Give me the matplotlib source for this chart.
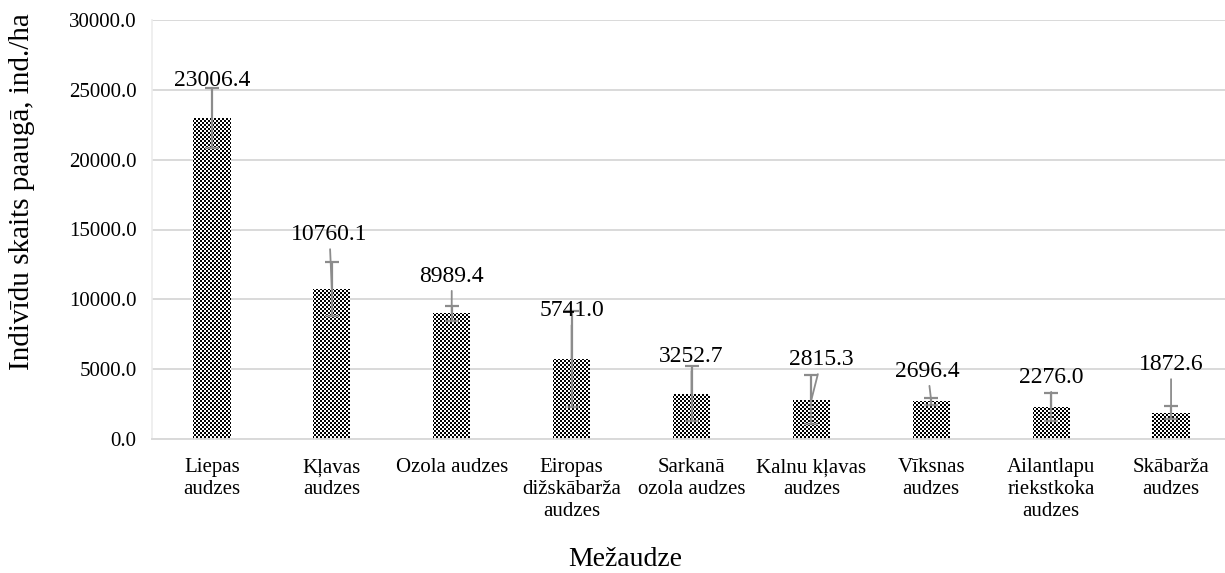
import matplotlib
matplotlib.use("Agg")
import matplotlib.pyplot as plt
import numpy as np
from matplotlib.path import Path

# ---- data ----
categories = ["Liepas\naudzes", "Kļavas\naudzes", "Ozola audzes",
              "Eiropas\ndižskābarža\naudzes", "Sarkanā\nozola audzes",
              "Kalnu kļavas\naudzes", "Vīksnas\naudzes",
              "Ailantlapu\nriekstkoka\naudzes", "Skābarža\naudzes"]
means = [23006.4, 10760.1, 8989.4, 5741.0, 3252.7, 2815.3, 2696.4, 2276.0, 1872.6]
errors = [2150, 1930, 547, 3430, 1970, 1755, 263, 990, 475]
y_ticks = [0, 5000, 10000, 15000, 20000, 25000, 30000]

# label placement (layout only): x offset in category units, baseline y in data units
label_dx = [0.0, -0.02, 0.0, 0.0, 0.0, 0.085, -0.03, 0.0, 0.0]
label_y = [25270, 14245, 11260, 8805, 5533, 5297, 4460, 4030, 4940]

plt.rcParams['font.family'] = ['Liberation Serif', 'DejaVu Serif']

W, H = 1225, 573
fig = plt.figure(figsize=(W / 100, H / 100), dpi=100)
ax_l, ax_b, ax_w, ax_h = 152, 134, 1079, 419   # pixels
ax = fig.add_axes([ax_l / W, ax_b / H, ax_w / W, ax_h / H])

x = np.arange(len(categories))
gray = '#8c8c8c'
bars = ax.bar(x, means, width=0.31, color='white', linewidth=0, zorder=2)

# fine checkerboard texture, clipped to the bars
ii, jj = np.indices((ax_h, ax_w))
checker = ((ii // 2 + jj // 2) % 2).astype(float)
xlim = (-0.5, len(categories) - 0.5)
ylim = (0, 30000)
im = ax.imshow(checker, cmap='gray', vmin=0, vmax=1, extent=(*xlim, *ylim),
               aspect='auto', interpolation='nearest', origin='upper', zorder=2.1)
clip = Path.make_compound_path(*[b.get_path().transformed(b.get_patch_transform())
                                 for b in bars])
im.set_clip_path(clip, ax.transData)

ax.errorbar(x, means, yerr=errors, fmt='none', ecolor=gray, elinewidth=1.6,
            capsize=5, capthick=1.6, zorder=3)

for xi, m, dx, ly in zip(x, means, label_dx, label_y):
    ax.annotate(f"{m:.1f}", xy=(xi, m), xytext=(xi + dx, ly), textcoords='data',
                ha='center', va='baseline', fontsize=17, color='black',
                arrowprops=dict(arrowstyle='-', color=gray, lw=1.3,
                                shrinkA=1, shrinkB=0),
                zorder=4)

ax.set_xlim(*xlim)
ax.set_ylim(*ylim)
ax.set_yticks(y_ticks)
ax.set_yticklabels([f"{t:.1f}" for t in y_ticks], fontsize=15)
ax.set_xticks(x)
ax.set_xticklabels(categories, fontsize=15, linespacing=1.2)
ax.tick_params(axis='both', length=0)
ax.tick_params(axis='y', pad=11)
ax.tick_params(axis='x', pad=14)

ax.grid(axis='y', color='#d9d9d9', linewidth=1.4, zorder=0)
ax.set_axisbelow(True)
for s in ['top', 'right']:
    ax.spines[s].set_visible(False)
ax.spines['bottom'].set_color('#d9d9d9')
ax.spines['bottom'].set_linewidth(1.4)
ax.spines['left'].set_color('#ececec')
ax.spines['left'].set_linewidth(1.2)

ax.set_ylabel("Indivīdu skaits paaugā, ind./ha", fontsize=21)
ax.yaxis.set_label_coords(-0.108, 0.59)
fig.text(0.51, 0.002, "Mežaudze", ha='center', va='bottom', fontsize=20)

fig.savefig("out.png", dpi=100)
